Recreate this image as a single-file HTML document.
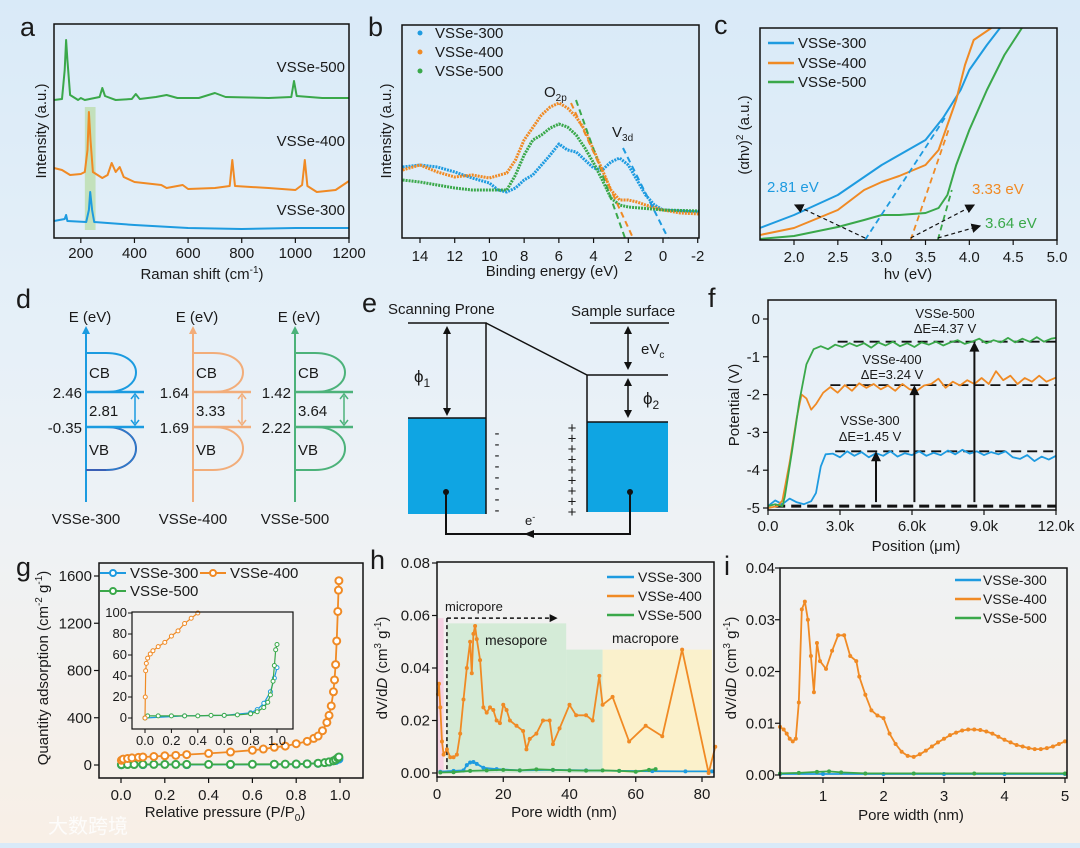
<!DOCTYPE html>
<html><head><meta charset="utf-8">
<style>
html,body{margin:0;padding:0;}
body{width:1080px;height:843px;overflow:hidden;background:linear-gradient(180deg,#d9eaf8 0%,#e6f0f8 40%,#eef2f5 62%,#f8efe6 100%);font-family:"Liberation Sans","Noto Sans CJK SC",sans-serif;}
svg text{font-family:"Liberation Sans","Noto Sans CJK SC",sans-serif;fill:#1a1a1a;}
</style></head>
<body>
<svg id="fig" width="1080" height="843" viewBox="0 0 1080 843" xmlns="http://www.w3.org/2000/svg"></svg>
<script>
// ---------- DATA ----------
const ramanTicks=[200,400,600,800,1000,1200];
const raman500=[[100,138],[130,139],[140,168],[145,198],[150,178],[160,143],[190,138],[200,140],[215,138],[270,141],[280,150],[290,142],[300,141],[330,138],[390,139],[405,144],[420,139],[480,141],[520,143],[560,140],[640,140],[700,145],[740,141],[900,140],[985,141],[995,157],[1005,142],[1100,140],[1200,140]];
const raman400=[[100,70],[130,68],[160,63],[200,64],[215,66],[225,88],[230,126],[236,98],[245,66],[280,60],[300,63],[315,75],[330,66],[345,71],[360,61],[400,56],[500,53],[520,50],[580,53],[600,49],[700,50],[755,52],[765,78],[775,52],[900,50],[1000,48],[1025,53],[1035,78],[1045,52],[1080,46],[1150,48],[1200,57]];
const raman300=[[100,17],[140,19],[145,23],[150,17],[220,16],[230,28],[235,46],[242,28],[250,16],[300,15],[400,13],[600,10],[800,9],[1000,10],[1200,10]];

const beTicks=[14,12,10,8,6,4,2,0,-2];
const xps300=[[15,71],[14,73],[13,71],[12,66],[11,60],[10,55],[9.5,48],[9,46],[8.5,50],[8,58],[7.5,63],[7,73],[6.5,83],[6,94],[5.5,88],[5,86],[4.5,78],[4,70],[3.5,68],[3,76],[2.5,80],[2,73],[1.5,58],[1,43],[0.5,33],[0,28],[-1,27],[-2.1,26]];
const xps400=[[15,68],[14,73],[13,66],[12,61],[11,63],[10,60],[9,65],[8.5,78],[8,98],[7,123],[6.5,131],[6,135],[5.5,130],[5,121],[4.5,108],[4,88],[3.5,68],[3,48],[2.5,38],[2,38],[1.5,36],[1,33],[0,28],[-1,25],[-2.1,24]];
const xps500=[[15,58],[14,56],[13,53],[12,50],[11,48],[10,48],[9,48],[8.5,63],[8,83],[7.5,98],[7,103],[6.5,110],[6,114],[5.5,111],[5,103],[4.5,90],[4,75],[3.5,58],[3,40],[2.5,33],[2,31],[0,28],[-2.1,27]];

const hvTicks=[2.0,2.5,3.0,3.5,4.0,4.5,5.0];
const tauc300=[[1.61,12],[2.0,25],[2.5,45],[3.0,75],[3.5,100],[3.7,122],[3.9,150],[4.0,170],[4.2,195],[4.35,212]];
const tauc400=[[1.61,5],[2.0,12],[2.5,30],[2.8,50],[3.0,58],[3.2,64],[3.5,75],[3.65,90],[3.75,115],[3.85,140],[3.95,175],[4.05,200],[4.25,212]];
const tauc500=[[1.61,1],[2.0,4],[2.5,13],[2.8,20],[3.0,25],[3.2,25],[3.5,27],[3.65,32],[3.75,45],[3.85,75],[4.0,110],[4.2,150],[4.4,185],[4.6,212]];
const bandGaps=[2.81,3.33,3.64];

const posTicks=[0,3,6,9,12];
const posLabels=["0.0","3.0k","6.0k","9.0k","12.0k"];
const potTicks=[0,-1,-2,-3,-4,-5];
const kpfm500=[[0,-4.95],[0.3,-4.9],[0.6,-4.95],[0.7,-4.7],[1.0,-3.5],[1.3,-2.2],[1.6,-1.2],[1.9,-0.8],[2.2,-0.72],[2.5,-0.8],[2.8,-0.68],[3.1,-0.74],[3.4,-0.64],[3.7,-0.72],[4.0,-0.64],[4.3,-0.76],[4.6,-0.62],[4.9,-0.7],[5.2,-0.6],[5.5,-0.72],[5.8,-0.64],[6.1,-0.74],[6.4,-0.62],[6.7,-0.68],[7.0,-0.6],[7.3,-0.7],[7.6,-0.62],[7.9,-0.56],[8.2,-0.66],[8.5,-0.6],[8.8,-0.52],[9.1,-0.64],[9.4,-0.56],[9.7,-0.62],[10,-0.5],[10.3,-0.62],[10.6,-0.52],[10.9,-0.6],[11.2,-0.48],[11.5,-0.6],[11.8,-0.52],[12,-0.5]];
const kpfm400=[[0,-5],[0.4,-4.95],[0.6,-4.8],[0.9,-3.8],[1.2,-2.6],[1.4,-2.0],[1.6,-2.1],[1.8,-2.4],[2.0,-2.25],[2.3,-1.95],[2.6,-1.8],[2.9,-1.95],[3.2,-1.75],[3.5,-1.9],[3.8,-1.7],[4.1,-1.82],[4.4,-1.72],[4.7,-1.86],[5.0,-1.76],[5.3,-1.9],[5.6,-1.72],[5.9,-1.86],[6.2,-1.9],[6.5,-1.76],[6.8,-1.72],[7.1,-1.58],[7.4,-1.82],[7.7,-1.66],[8.0,-1.76],[8.3,-1.62],[8.6,-1.72],[8.9,-1.56],[9.2,-1.72],[9.5,-1.38],[9.8,-1.62],[10.1,-1.5],[10.4,-1.72],[10.7,-1.56],[11,-1.66],[11.3,-1.5],[11.6,-1.66],[12,-1.55]];
const kpfm300=[[0,-4.95],[0.3,-4.8],[0.6,-4.9],[0.9,-4.75],[1.2,-4.85],[1.5,-4.9],[1.8,-4.82],[2.0,-4.6],[2.2,-3.9],[2.4,-3.58],[2.7,-3.56],[3.0,-3.66],[3.3,-3.5],[3.6,-3.62],[3.9,-3.52],[4.2,-3.66],[4.5,-3.55],[4.8,-3.62],[5.1,-3.5],[5.4,-3.64],[5.7,-3.55],[6.0,-3.6],[6.3,-3.5],[6.6,-3.62],[6.9,-3.54],[7.2,-3.6],[7.5,-3.48],[7.8,-3.58],[8.1,-3.46],[8.4,-3.56],[8.7,-3.5],[9.0,-3.6],[9.3,-3.52],[9.6,-3.58],[9.9,-3.5],[10.2,-3.66],[10.5,-3.7],[10.8,-3.6],[11.1,-3.76],[11.4,-3.64],[11.7,-3.72],[12,-3.62]];
const fermiLevels=[-0.6,-1.75,-3.5,-4.95];

const ppTicks=[0,0.2,0.4,0.6,0.8,1.0];
const qaTicks=[0,400,800,1200,1600];
const iso400=[[0.002,40],[0.01,50],[0.03,55],[0.05,60],[0.08,65],[0.1,68],[0.15,72],[0.2,78],[0.25,82],[0.3,88],[0.4,98],[0.5,110],[0.6,125],[0.65,135],[0.7,150],[0.75,160],[0.8,180],[0.85,200],[0.88,225],[0.9,245],[0.92,290],[0.94,360],[0.95,420],[0.96,500],[0.97,620],[0.975,720],[0.98,850],[0.985,1050],[0.99,1300],[0.993,1480],[0.995,1560]];
const iso500=[[0.002,3],[0.03,4],[0.06,4],[0.1,5],[0.15,5],[0.2,5],[0.25,5],[0.3,5],[0.4,5],[0.5,5],[0.6,6],[0.7,6],[0.75,7],[0.8,8],[0.85,10],[0.9,15],[0.93,20],[0.95,26],[0.97,35],[0.98,45],[0.99,60],[0.995,68]];
const iso300=[[0.002,2],[0.1,3],[0.3,3],[0.5,4],[0.7,5],[0.8,7],[0.85,10],[0.9,14],[0.95,25],[0.98,38],[0.995,50]];
const insetXTicks=[0,0.2,0.4,0.6,0.8,1.0];
const insetYTicks=[0,20,40,60,80,100];
const inset400=[[0,0],[0.002,20],[0.005,45],[0.01,52],[0.02,57],[0.04,61],[0.06,64],[0.1,68],[0.15,72],[0.2,78],[0.25,83],[0.3,90],[0.35,95],[0.4,100]];
const inset500=[[0,0],[0.02,2],[0.1,2],[0.2,2],[0.3,2],[0.4,2],[0.5,2.5],[0.6,2.5],[0.7,3],[0.8,4],[0.85,6],[0.9,10],[0.93,15],[0.95,22],[0.97,35],[0.98,50],[0.99,65],[1.0,70]];
const inset300=[[0,0],[0.3,2],[0.6,2.5],[0.8,5],[0.85,8],[0.9,14],[0.95,25],[0.98,38],[1.0,48]];

const pwTicks=[0,20,40,60,80];
const dvTicks=[0,0.02,0.04,0.06,0.08];
const psdMeso400=[[0.3,0.03],[0.6,0.034],[1,0.025],[1.5,0.012],[2,0.007],[3,0.009],[4,0.006],[5,0.006],[6,0.007],[7,0.015],[8,0.028],[9,0.04],[10,0.05],[10.5,0.038],[11,0.053],[11.5,0.056],[12,0.051],[13,0.043],[14,0.025],[15,0.023],[16,0.025],[17,0.024],[18,0.02],[19,0.019],[20,0.026],[21,0.024],[22,0.02],[24,0.018],[26,0.016],[27,0.009],[28,0.013],[30,0.015],[32,0.02],[34,0.02],[35,0.011],[37,0.017],[40,0.026],[42,0.022],[45,0.022],[47,0.02],[49,0.037],[50,0.026],[53,0.029],[58,0.012],[63,0.018],[68,0.014],[74,0.047],[82,0.0],[84,0.01]];
const psdMeso300=[[1,0.0005],[5,0.0008],[8,0.001],[9,0.003],[10,0.004],[11,0.0042],[12,0.0035],[14,0.002],[18,0.0015],[25,0.001],[35,0.0012],[45,0.001],[55,0.0008],[65,0.0007],[75,0.0006],[83,0.0006]];
const psdMeso500=[[1,0.0002],[5,0.0003],[10,0.0008],[15,0.001],[20,0.0012],[25,0.001],[30,0.0014],[35,0.0012],[40,0.001],[45,0.0009],[50,0.001],[55,0.0008],[60,0.0005],[64,0.0012],[66,0.0015]];
const poreRegions=[[0,2,0.059],[3,39,0.057],[39,50,0.047],[50,83,0.047]];

const pwMicroTicks=[1,2,3,4,5];
const dvMicroTicks=[0,0.01,0.02,0.03,0.04];
const psdMicro400=[[0.29,0.0093],[0.35,0.0088],[0.4,0.008],[0.45,0.007],[0.5,0.0065],[0.55,0.007],[0.6,0.014],[0.65,0.032],[0.7,0.0335],[0.75,0.03],[0.8,0.023],[0.85,0.016],[0.9,0.0255],[0.95,0.022],[1.05,0.0205],[1.15,0.024],[1.25,0.027],[1.35,0.027],[1.45,0.023],[1.55,0.022],[1.6,0.019],[1.7,0.0155],[1.8,0.0125],[1.9,0.0115],[2.0,0.011],[2.1,0.008],[2.2,0.006],[2.3,0.0045],[2.4,0.0037],[2.5,0.0035],[2.6,0.004],[2.7,0.0047],[2.8,0.0055],[2.9,0.0063],[3.0,0.007],[3.1,0.0077],[3.2,0.0082],[3.3,0.0086],[3.4,0.0088],[3.5,0.0088],[3.6,0.0087],[3.7,0.0084],[3.8,0.008],[3.9,0.0074],[4.0,0.0068],[4.1,0.0063],[4.2,0.0058],[4.3,0.0055],[4.4,0.0052],[4.5,0.005],[4.6,0.005],[4.7,0.0052],[4.8,0.0055],[4.9,0.006],[5.0,0.0065]];
const psdMicro300=[[0.29,0.0002],[1,0.0002],[2,0.0002],[3,0.0002],[4,0.0002],[5,0.0002]];
const psdMicro500=[[0.29,0.0003],[0.6,0.0004],[0.9,0.0006],[1.1,0.0007],[1.3,0.0005],[1.7,0.0003],[2.5,0.0003],[3.5,0.0003],[5,0.0003]];

// ---------- HELPERS ----------
const NS="http://www.w3.org/2000/svg";
const svg=document.getElementById('fig');
const BLUE="#1e9be0",ORANGE="#f08a24",GREEN="#3aa84a";
function lin(d0,d1,r0,r1){return v=>r0+(v-d0)*(r1-r0)/(d1-d0);}
function mk(tag,attrs,parent){const e=document.createElementNS(NS,tag);for(const k in attrs)e.setAttribute(k,attrs[k]);(parent||svg).appendChild(e);return e;}
function txt(s,x,y,size,anchor,parent,color){const t=mk('text',{x:x,y:y,'font-size':size,'text-anchor':anchor||'start'},parent);if(color)t.setAttribute('style','fill:'+color);t.textContent=s;return t;}
function pathD(pts,sx,sy){return pts.map((p,i)=>(i?'L':'M')+sx(p[0]).toFixed(1)+','+sy(p[1]).toFixed(1)).join(' ');}
function line(pts,sx,sy,color,w,parent){return mk('path',{d:pathD(pts,sx,sy),fill:'none',stroke:color,'stroke-width':w,'stroke-linejoin':'round'},parent);}
function group(parent){return mk('g',{},parent);}

// ---------- PANEL A ----------
{
const g=group();


const sx=lin(100,1200,54,349), sy=lin(0,214,238,24);
const hl=mk('rect',{x:sx(215),y:107,width:sx(255)-sx(215),height:123,fill:'#b9dca8',opacity:0.75},g);


[[raman500,GREEN,'raman-vsse-500'],[raman400,ORANGE,'raman-vsse-400'],[raman300,BLUE,'raman-vsse-300']].forEach(s=>{
  const p=line(s[0],sx,sy,s[1],2,g);
  
  
});
const box=mk('rect',{x:54,y:24,width:295,height:214,fill:'none',stroke:'#111','stroke-width':1.5},g);


ramanTicks.forEach(v=>{mk('line',{x1:sx(v),x2:sx(v),y1:238,y2:243,stroke:'#111','stroke-width':1.2},g);const t=txt(String(v),sx(v),258,15,'middle',g);});
const xt=txt('',202,279,15,'middle',g);xt.innerHTML='Raman shift (cm<tspan dy="-6" font-size="10">-1</tspan><tspan dy="6">)</tspan>';

const yt=txt('Intensity (a.u.)',0,0,15,'middle',g);yt.setAttribute('transform','translate(46,131) rotate(-90)');

const l1=txt('VSSe-500',345,72,15,'end',g);
const l2=txt('VSSe-400',345,146,15,'end',g);
const l3=txt('VSSe-300',345,215,15,'end',g);
const pl=txt('a',20,36,27,'start',g);
}

// ---------- PANEL B ----------
{
const g=group();


const sx=lin(14,0,420,663), sy=lin(0,213,238,25);
[[xps300,BLUE,'xps-vsse-300'],[xps400,ORANGE,'xps-vsse-400'],[xps500,GREEN,'xps-vsse-500']].forEach(s=>{
  const p=line(s[0],sx,sy,s[1],3,g);
  p.setAttribute('stroke-dasharray','2 1');
  
  
});
[[576,100,625,238,GREEN],[571,103,633,238,ORANGE],[623,148,668,238,BLUE]].forEach(d=>{
  const l=mk('line',{x1:d[0],y1:d[1],x2:d[2],y2:d[3],stroke:d[4],'stroke-width':2,'stroke-dasharray':'6 4'},g);
  
  
});
const box=mk('rect',{x:402,y:25,width:297,height:213,fill:'none',stroke:'#111','stroke-width':1.5},g);

beTicks.forEach(v=>{mk('line',{x1:sx(v),x2:sx(v),y1:238,y2:243,stroke:'#111','stroke-width':1.2},g);const t=txt(String(v),sx(v),261,15,'middle',g);});
const xt=txt('Binding energy (eV)',552,276,15,'middle',g);
const yt=txt('Intensity (a.u.)',0,0,15,'middle',g);yt.setAttribute('transform','translate(391,131) rotate(-90)');

const o=txt('',544,97,15,'start',g);o.innerHTML='O<tspan dy="4" font-size="10">2p</tspan>';
const vv=txt('',612,137,15,'start',g);vv.innerHTML='V<tspan dy="4" font-size="10">3d</tspan>';
[['VSSe-300',BLUE,38],['VSSe-400',ORANGE,57],['VSSe-500',GREEN,76]].forEach(l=>{
  const c=mk('circle',{cx:420,cy:l[2]-5,r:2.5,fill:l[1]},g);
  const t=txt(l[0],435,l[2],15,'start',g);
});
const pl=txt('b',368,36,27,'start',g);
}

// ---------- PANEL C ----------
{
const g=group();


const sx=lin(2,5,794,1057), sy=lin(0,212,240,28);
const defs=mk('defs',{},g);
const mkr=mk('marker',{id:'ah',markerWidth:8,markerHeight:8,refX:7,refY:4,orient:'auto'},defs);
mk('path',{d:'M0,0 L8,4 L0,8 z',fill:'#111'},mkr);
const cp=mk('clipPath',{id:'clipc'},defs);mk('rect',{x:760,y:28,width:297,height:212},cp);
const cg=mk('g',{'clip-path':'url(#clipc)'},g);
[[tauc300,BLUE,'tauc-vsse-300'],[tauc400,ORANGE,'tauc-vsse-400'],[tauc500,GREEN,'tauc-vsse-500']].forEach(s=>{
  const p=line(s[0],sx,sy,s[1],2,cg);
  
  
});
[[bandGaps[0],3.72,122,BLUE],[bandGaps[1],3.77,112,ORANGE],[bandGaps[2],3.8,50,GREEN]].forEach(d=>{
  const l=mk('line',{x1:sx(d[0]),y1:sy(0),x2:sx(d[1]),y2:sy(d[2]),stroke:d[3],'stroke-width':1.8,'stroke-dasharray':'6 4'},g);
  
  
});
[[sx(bandGaps[0]),238,795,205],[sx(bandGaps[1]),238,974,205],[sx(bandGaps[2]),238,980,226]].forEach(a=>{
  const l=mk('line',{x1:a[0],y1:a[1],x2:a[2],y2:a[3],stroke:'#111','stroke-width':1.2,'stroke-dasharray':'4 3','marker-end':'url(#ah)'},g);
  
  
});
const b1=txt(bandGaps[0]+' eV',767,192,15,'start',g,BLUE);
const b2=txt(bandGaps[1]+' eV',972,194,15,'start',g,ORANGE);
const b3=txt(bandGaps[2]+' eV',985,228,15,'start',g,GREEN);
const box=mk('rect',{x:760,y:28,width:297,height:212,fill:'none',stroke:'#111','stroke-width':1.5},g);

hvTicks.forEach(v=>{mk('line',{x1:sx(v),x2:sx(v),y1:240,y2:245,stroke:'#111','stroke-width':1.2},g);const t=txt(v.toFixed(1),sx(v),262,15,'middle',g);});
const xt=txt('hν (eV)',908,279,15,'middle',g);
const yt=txt('',0,0,15,'middle',g);yt.innerHTML='(αhν)<tspan dy="-6" font-size="10">2</tspan><tspan dy="6"> (a.u.)</tspan>';yt.setAttribute('transform','translate(749,135) rotate(-90)');

[['VSSe-300',BLUE,43],['VSSe-400',ORANGE,63],['VSSe-500',GREEN,82]].forEach(l=>{
  const s=mk('line',{x1:768,x2:794,y1:l[2],y2:l[2],stroke:l[1],'stroke-width':2.5},g);
  const t=txt(l[0],798,l[2]+5,15,'start',g);
});
const pl=txt('c',714,34,27,'start',g);
}

// ---------- PANEL D ----------
{
const g=group();


const diagrams=[[86,'#1b9be0','2.46','-0.35','2.81','VSSe-300','#3a5fb5'],[193,'#f2ad7a','1.64','1.69','3.33','VSSe-400','#f2ad7a'],[295,'#4cb27a','1.42','2.22','3.64','VSSe-500','#4cb27a']];
diagrams.forEach(d=>{
  const x=d[0],c=d[1];
  const dg=group(g);
  
  
  mk('line',{x1:x,y1:502,x2:x,y2:332,stroke:c,'stroke-width':2},dg);
  mk('path',{d:`M${x-4},334 L${x},326 L${x+4},334 z`,fill:c},dg);
  mk('path',{d:`M${x},353 L${x+20},353 C${x+60},353 ${x+60},392 ${x+20},392 L${x},392`,fill:'none',stroke:c,'stroke-width':2},dg);
  mk('path',{d:`M${x},427 L${x+20},427 C${x+60},427 ${x+60},470 ${x+20},470 L${x},470`,fill:'none',stroke:d[6],'stroke-width':2},dg);
  mk('path',{d:`M${x},427 L${x+20},427 C${x+60},427 ${x+60},470 ${x+20},470`,fill:'none',stroke:c,'stroke-width':1,opacity:0.6},dg);
  mk('line',{x1:x,y1:392,x2:x+58,y2:392,stroke:c,'stroke-width':2.5},dg);
  mk('line',{x1:x,y1:427,x2:x+58,y2:427,stroke:c,'stroke-width':2.5},dg);
  mk('line',{x1:x+49,y1:396,x2:x+49,y2:423,stroke:c,'stroke-width':1.5},dg);
  mk('path',{d:`M${x+45},399 L${x+49},394 L${x+53},399 M${x+45},420 L${x+49},425 L${x+53},420`,fill:'none',stroke:c,'stroke-width':1.5},dg);
  txt('E (eV)',x+4,322,15,'middle',dg);
  txt('CB',x+3,378,15,'start',dg);
  txt('VB',x+3,455,15,'start',dg);
  txt(d[2],x-4,398,15,'end',dg);
  txt(d[3],x-4,433,15,'end',dg);
  txt(d[4],x+3,416,15,'start',dg);
  txt(d[5],x,524,15,'middle',dg);
});
const pl=txt('d',16,308,27,'start',g);
}

// ---------- PANEL E ----------
{
const g=group();


const r1=mk('rect',{x:408,y:418,width:78,height:96,fill:'#0fa5e3'},g);
const r2=mk('rect',{x:587,y:422,width:81,height:90,fill:'#0fa5e3'},g);
mk('line',{x1:486,y1:418,x2:668,y2:418,stroke:'none'},g);
mk('line',{x1:408,y1:418,x2:486,y2:418,stroke:'#111','stroke-width':1.5},g);
mk('line',{x1:587,y1:422,x2:668,y2:422,stroke:'#111','stroke-width':1.5},g);
mk('path',{d:'M408,323 L486,323 L486,514 M486,323 L587,375 L668,375 M587,375 L587,512 M590,323 L669,323',fill:'none',stroke:'#111','stroke-width':1.5},g);
mk('path',{d:'M446,492 L446,534 L630,534 L630,492',fill:'none',stroke:'#111','stroke-width':2},g);
mk('circle',{cx:446,cy:492,r:3,fill:'#111'},g);mk('circle',{cx:630,cy:492,r:3,fill:'#111'},g);
mk('path',{d:'M524,534 L534,530 L534,538 z',fill:'#111'},g);
[[447,326,447,416],[628,326,628,370],[628,378,628,418]].forEach(a=>{
  mk('line',{x1:a[0],y1:a[1]+5,x2:a[2],y2:a[3]-5,stroke:'#111','stroke-width':1.5},g);
  mk('path',{d:`M${a[0]-4},${a[1]+8} L${a[0]},${a[1]} L${a[0]+4},${a[1]+8} z M${a[2]-4},${a[3]-8} L${a[2]},${a[3]} L${a[2]+4},${a[3]-8} z`,fill:'#111'},g);
});
for(let i=0;i<8;i++){txt('-',497,438+i*11,15,'middle',g);}
for(let i=0;i<9;i++){txt('+',572,433+i*10.5,15,'middle',g);}
const f1=txt('',414,382,17,'start',g);f1.innerHTML='ϕ<tspan dy="5" font-size="12">1</tspan>';
const f2=txt('',643,404,17,'start',g);f2.innerHTML='ϕ<tspan dy="5" font-size="12">2</tspan>';
const ev=txt('',641,354,15,'start',g);ev.innerHTML='eV<tspan dy="4" font-size="10">c</tspan>';
const em=txt('',525,525,13,'start',g);em.innerHTML='e<tspan dy="-5" font-size="9">-</tspan>';
const s1=txt('Scanning Prone',388,314,15,'start',g);
const s2=txt('Sample surface',571,316,15,'start',g);
const pl=txt('e',362,312,27,'start',g);
}

// ---------- PANEL F ----------
{
const g=group();


const sx=lin(0,12,768,1056), sy=lin(0,-5,319,508);
[[fermiLevels[3],0.3],[fermiLevels[2],2.8],[fermiLevels[1],2.6],[fermiLevels[0],2.9]].forEach(f=>{
  const l=mk('line',{x1:sx(f[1]),x2:sx(12),y1:sy(f[0]),y2:sy(f[0]),stroke:'#111','stroke-width':f[0]<-4.5?3:1.8,'stroke-dasharray':'10 6'},g);
  
  
});
[[kpfm300,BLUE,'kpfm-vsse-300'],[kpfm400,ORANGE,'kpfm-vsse-400'],[kpfm500,GREEN,'kpfm-vsse-500']].forEach(s=>{
  const p=line(s[0],sx,sy,s[1],1.8,g);
  
  
});
[[4.5,fermiLevels[2]],[6.1,fermiLevels[1]],[8.6,fermiLevels[0]]].forEach(a=>{
  const x=sx(a[0]),y1=sy(fermiLevels[3])-4,y2=sy(a[1]);
  const l=mk('line',{x1:x,x2:x,y1:y1,y2:y2+8,stroke:'#111','stroke-width':2},g);
  
  
  mk('path',{d:`M${x-5},${y2+10} L${x},${y2} L${x+5},${y2+10} z`,fill:'#111'},g);
});
const box=mk('rect',{x:768,y:300,width:288,height:210,fill:'none',stroke:'#111','stroke-width':1.5},g);

posTicks.forEach((v,i)=>{mk('line',{x1:sx(v),x2:sx(v),y1:510,y2:515,stroke:'#111','stroke-width':1.2},g);const t=txt(posLabels[i],sx(v),531,15,'middle',g);});
potTicks.forEach(v=>{mk('line',{x1:763,x2:768,y1:sy(v),y2:sy(v),stroke:'#111','stroke-width':1.2},g);const t=txt(String(v),760,sy(v)+5,15,'end',g);});
const xt=txt('Position (μm)',916,551,15,'middle',g);
const yt=txt('Potential (V)',0,0,15,'middle',g);yt.setAttribute('transform','translate(739,405) rotate(-90)');

[['VSSe-500',945,318],['ΔE=4.37 V',945,333],['VSSe-400',892,364],['ΔE=3.24 V',892,379],['VSSe-300',870,425],['ΔE=1.45 V',870,441]].forEach(l=>{
  const t=txt(l[0],l[1],l[2],13,'middle',g);
});
const pl=txt('f',708,307,27,'start',g);
}

// ---------- PANEL G ----------
{
const g=group();


const sx=lin(0,1,121,340), sy=lin(0,1600,765,576);
[[iso300,BLUE,'isotherm-vsse-300'],[iso500,GREEN,'isotherm-vsse-500'],[iso400,ORANGE,'isotherm-vsse-400']].forEach(s=>{
  const p=line(s[0],sx,sy,s[1],1.8,g);
  
  
  s[0].forEach(pt=>{const c=mk('circle',{cx:sx(pt[0]),cy:sy(pt[1]),r:3.5,fill:'#fff',stroke:s[1],'stroke-width':2},g);});
});
const box=mk('rect',{x:99,y:563,width:264,height:215,fill:'none',stroke:'#111','stroke-width':1.5},g);

ppTicks.forEach(v=>{mk('line',{x1:sx(v),x2:sx(v),y1:778,y2:783,stroke:'#111','stroke-width':1.2},g);const t=txt(v.toFixed(1),sx(v),800,15,'middle',g);});
qaTicks.forEach(v=>{mk('line',{x1:94,x2:99,y1:sy(v),y2:sy(v),stroke:'#111','stroke-width':1.2},g);const t=txt(String(v),92,sy(v)+5,15,'end',g);});
const xt=txt('',225,817,15,'middle',g);xt.innerHTML='Relative pressure (P/P<tspan dy="4" font-size="10">0</tspan><tspan dy="-4">)</tspan>';
const yt=txt('',0,0,15,'middle',g);yt.innerHTML='Quantity adsorption (cm<tspan dy="-6" font-size="10">-2</tspan><tspan dy="6"> g</tspan><tspan dy="-6" font-size="10">-1</tspan><tspan dy="6">)</tspan>';yt.setAttribute('transform','translate(48,668) rotate(-90)');

// inset
const ig=group(g);


const ix=lin(0,1,145,277), iy=lin(0,100,718,613);
[[inset300,BLUE,'inset-vsse-300'],[inset500,GREEN,'inset-vsse-500'],[inset400,ORANGE,'inset-vsse-400']].forEach(s=>{
  const p=line(s[0],ix,iy,s[1],1.2,ig);
  
  
  s[0].forEach(pt=>{const c=mk('circle',{cx:ix(pt[0]),cy:iy(pt[1]),r:2,fill:'#fff',stroke:s[1],'stroke-width':1},ig);});
});
mk('rect',{x:132,y:612,width:161,height:117,fill:'none',stroke:'#111','stroke-width':1.2},ig);
insetXTicks.forEach(v=>{mk('line',{x1:ix(v),x2:ix(v),y1:729,y2:733,stroke:'#111'},ig);txt(v.toFixed(1),ix(v),745,13,'middle',ig);});
insetYTicks.forEach(v=>{mk('line',{x1:128,x2:132,y1:iy(v),y2:iy(v),stroke:'#111'},ig);txt(String(v),127,iy(v)+4,13,'end',ig);});
[['VSSe-300',BLUE,100,573],['VSSe-400',ORANGE,200,573],['VSSe-500',GREEN,100,591]].forEach(l=>{
  const s=mk('line',{x1:l[2],x2:l[2]+26,y1:l[3],y2:l[3],stroke:l[1],'stroke-width':2},g);
  mk('circle',{cx:l[2]+13,cy:l[3],r:3,fill:'#fff',stroke:l[1],'stroke-width':2},g);
  const t=txt(l[0],l[2]+30,l[3]+5,15,'start',g);
});
const pl=txt('g',16,576,27,'start',g);
}

// ---------- PANEL H ----------
{
const g=group();


const sx=lin(0,80,437,702), sy=lin(0,0.08,773,563);
const fills=['#f6cde0','#cfead2','#cfead2','#fbf1c6'];
poreRegions.forEach((r,i)=>{
  const rc=mk('rect',{x:sx(r[0]),y:sy(r[2]),width:sx(r[1])-sx(r[0]),height:sy(0)-sy(r[2]),fill:fills[i],opacity:0.85},g);
  
  
});
mk('line',{x1:sx(3),x2:sx(3),y1:sy(0.059),y2:sy(0),stroke:'#111','stroke-width':1.5,'stroke-dasharray':'4 3'},g);
mk('line',{x1:sx(3),x2:sx(34),y1:sy(0.059),y2:sy(0.059),stroke:'#111','stroke-width':1.5,'stroke-dasharray':'4 3'},g);
mk('path',{d:`M${sx(34)},${sy(0.059)-4} L${sx(34)+8},${sy(0.059)} L${sx(34)},${sy(0.059)+4} z`,fill:'#111'},g);
[[psdMeso300,BLUE,'psd-vsse-300'],[psdMeso500,GREEN,'psd-vsse-500'],[psdMeso400,ORANGE,'psd-vsse-400']].forEach(s=>{
  const p=line(s[0],sx,sy,s[1],1.8,g);
  
  
  s[0].forEach(pt=>{const c=mk('circle',{cx:sx(pt[0]),cy:sy(pt[1]),r:2,fill:s[1]},g);});
});
const box=mk('rect',{x:437,y:562,width:277,height:215,fill:'none',stroke:'#111','stroke-width':1.5},g);

pwTicks.forEach(v=>{mk('line',{x1:sx(v),x2:sx(v),y1:777,y2:782,stroke:'#111','stroke-width':1.2},g);const t=txt(String(v),sx(v),799,15,'middle',g);});
dvTicks.forEach(v=>{mk('line',{x1:432,x2:437,y1:sy(v),y2:sy(v),stroke:'#111','stroke-width':1.2},g);const t=txt(v.toFixed(2),430,sy(v)+5,15,'end',g);});
const xt=txt('Pore width (nm)',564,817,15,'middle',g);
const yt=txt('',0,0,15,'middle',g);yt.innerHTML='dV/d<tspan font-style="italic">D</tspan> (cm<tspan dy="-6" font-size="10">3</tspan><tspan dy="6"> g</tspan><tspan dy="-6" font-size="10">-1</tspan><tspan dy="6">)</tspan>';yt.setAttribute('transform','translate(387,668) rotate(-90)');

const m1=txt('micropore',445,611,13,'start',g);
const m2=txt('mesopore',485,645,14,'start',g);
const m3=txt('macropore',612,643,14,'start',g);
[['VSSe-300',BLUE,577],['VSSe-400',ORANGE,596],['VSSe-500',GREEN,615]].forEach(l=>{
  const s=mk('line',{x1:607,x2:634,y1:l[2],y2:l[2],stroke:l[1],'stroke-width':2.5},g);
  const t=txt(l[0],638,l[2]+5,14,'start',g);
});
const pl=txt('h',370,569,27,'start',g);
}

// ---------- PANEL I ----------
{
const g=group();


const sx=lin(1,5,823,1065), sy=lin(0,0.04,775,568);
[[psdMicro300,BLUE,'micro-psd-vsse-300'],[psdMicro500,GREEN,'micro-psd-vsse-500'],[psdMicro400,ORANGE,'micro-psd-vsse-400']].forEach(s=>{
  const p=line(s[0],sx,sy,s[1],1.8,g);
  
  
  s[0].forEach(pt=>{const c=mk('circle',{cx:sx(pt[0]),cy:sy(pt[1]),r:2,fill:s[1]},g);});
});
const box=mk('rect',{x:780,y:568,width:287,height:210,fill:'none',stroke:'#111','stroke-width':1.5},g);

pwMicroTicks.forEach(v=>{mk('line',{x1:sx(v),x2:sx(v),y1:778,y2:783,stroke:'#111','stroke-width':1.2},g);const t=txt(String(v),sx(v),801,15,'middle',g);});
dvMicroTicks.forEach(v=>{mk('line',{x1:775,x2:780,y1:sy(v),y2:sy(v),stroke:'#111','stroke-width':1.2},g);const t=txt(v.toFixed(2),775,sy(v)+5,15,'end',g);});
const xt=txt('Pore width (nm)',911,820,15,'middle',g);
const yt=txt('',0,0,15,'middle',g);yt.innerHTML='dV/d<tspan font-style="italic">D</tspan> (cm<tspan dy="-6" font-size="10">3</tspan><tspan dy="6"> g</tspan><tspan dy="-6" font-size="10">-1</tspan><tspan dy="6">)</tspan>';yt.setAttribute('transform','translate(736,668) rotate(-90)');

[['VSSe-300',BLUE,580],['VSSe-400',ORANGE,599],['VSSe-500',GREEN,618]].forEach(l=>{
  const s=mk('line',{x1:955,x2:981,y1:l[2],y2:l[2],stroke:l[1],'stroke-width':2.5},g);
  const t=txt(l[0],983,l[2]+5,14,'start',g);
});
const pl=txt('i',724,575,27,'start',g);
}

// watermark
const wm=txt('大数跨境',48,833,20,'start',svg,'#ffffff');


wm.setAttribute('opacity','0.85');
</script>
</body></html>
